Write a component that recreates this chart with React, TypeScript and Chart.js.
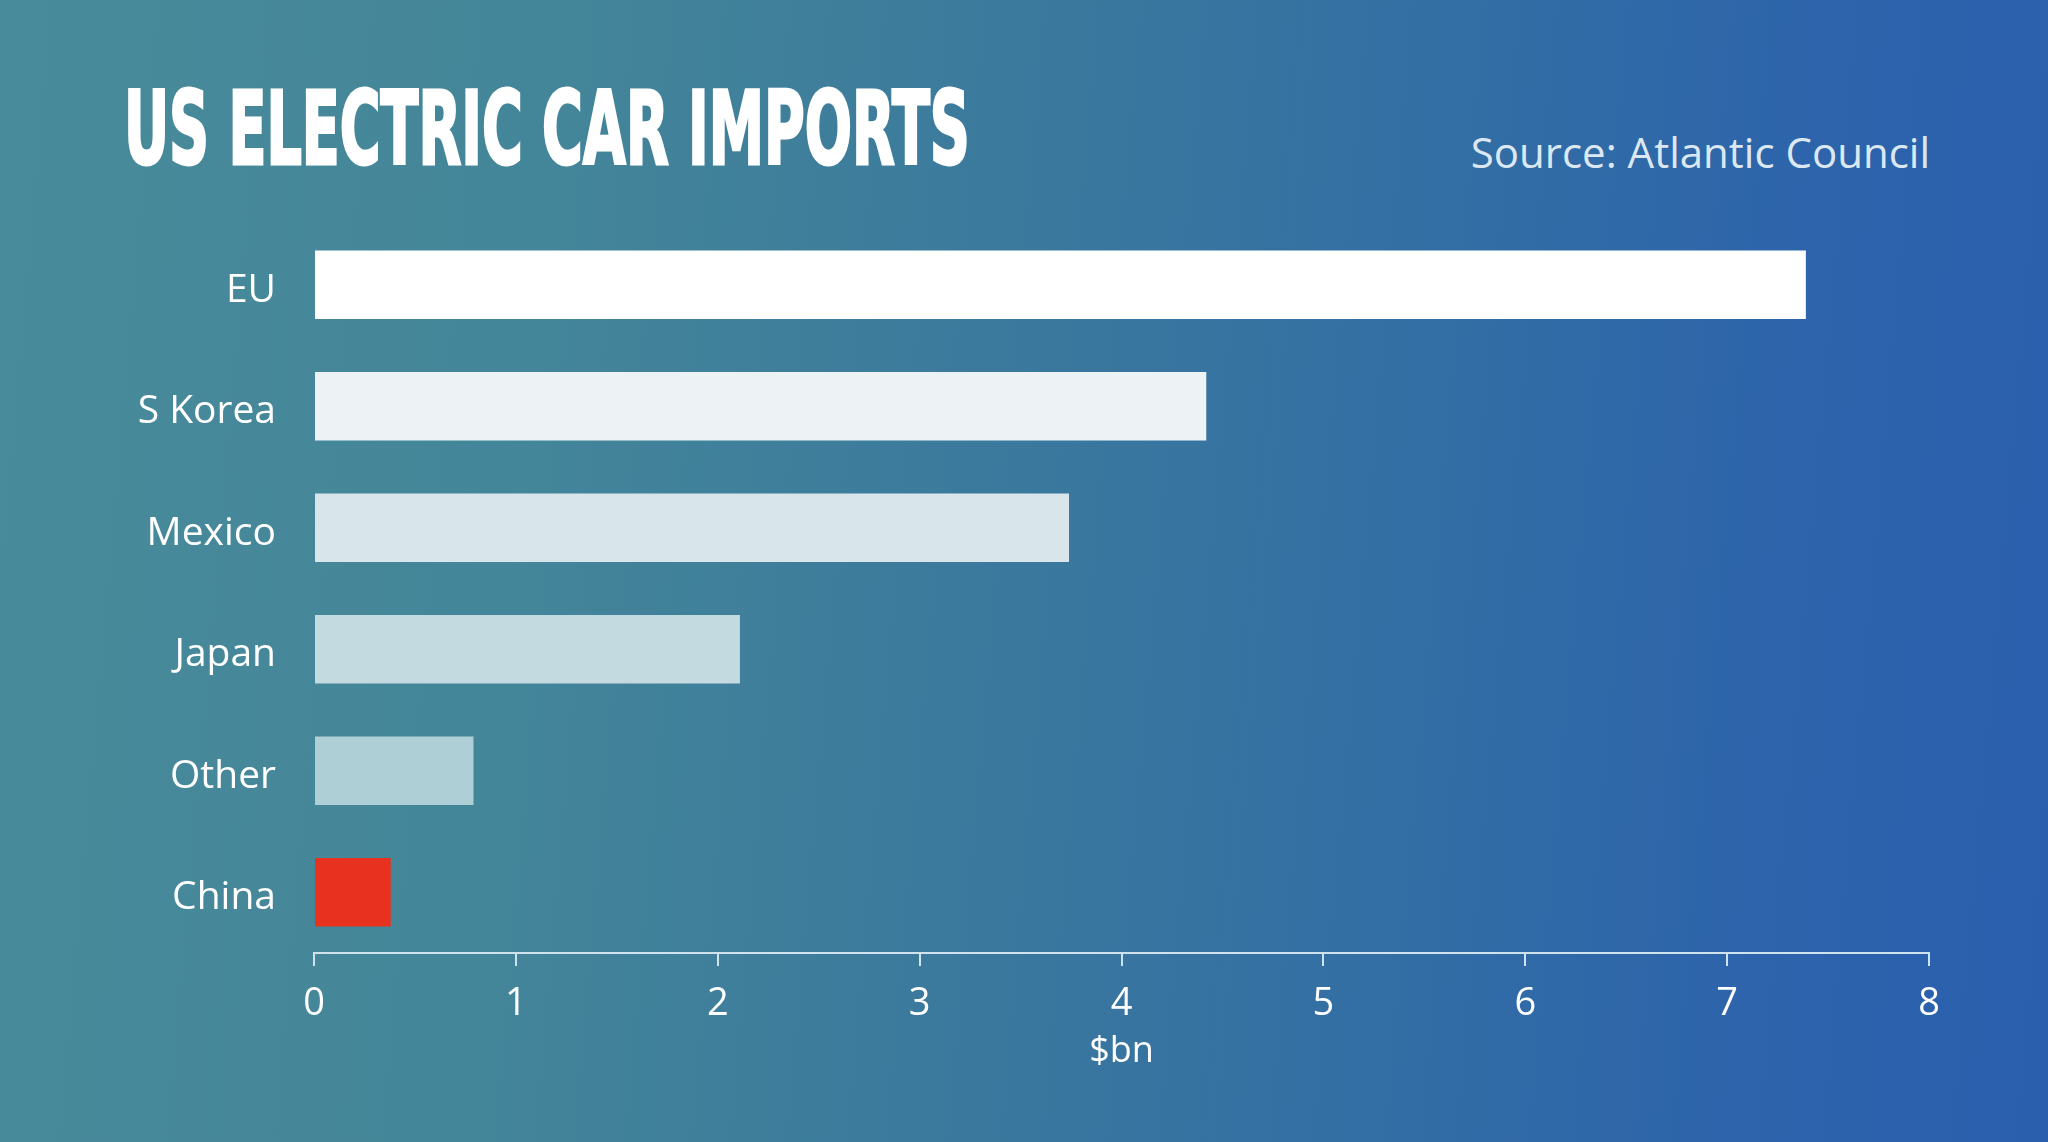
import { useEffect, useLayoutEffect, useRef } from "react";
import { Chart, registerables } from "chart.js";

Chart.register(...registerables);

// data ($bn)
const categories = ["EU", "S Korea", "Mexico", "Japan", "Other", "China"];
const importsBn = [7.39, 4.42, 3.74, 2.11, 0.79, 0.38];
const barColours = ["#ffffff", "#edf3f5", "#d8e5eb", "#c3dae1", "#aecfd6", "#e8321f"];
const xMin = 0;
const xMax = 8;
const xStep = 1;

const TEXT_FONT = "'Open Sans', 'Noto Sans', sans-serif";
const AXIS_COLOUR = "#cfe3ee";

export default function App() {
  const canvasRef = useRef<HTMLCanvasElement>(null);
  const chartRef = useRef<Chart<"bar"> | null>(null);
  const titleRef = useRef<HTMLDivElement>(null);

  // squeeze the headline into the width it has in the graphic
  useLayoutEffect(() => {
    const fit = () => {
      const el = titleRef.current;
      if (!el) return;
      el.style.transform = "none";
      const w = el.offsetWidth;
      if (w > 0) el.style.transform = `scaleX(${846 / w})`;
    };
    fit();
    document.fonts?.ready.then(fit);
  }, []);

  useEffect(() => {
    if (!canvasRef.current) return;
    const ctx = canvasRef.current.getContext("2d");
    if (!ctx) return;

    chartRef.current = new Chart(ctx, {
      type: "bar",
      data: {
        labels: categories,
        datasets: [
          {
            label: "US electric car imports ($bn)",
            data: importsBn,
            backgroundColor: barColours,
            borderWidth: 0,
            barPercentage: 0.565,
            categoryPercentage: 1,
          },
        ],
      },
      options: {
        indexAxis: "y",
        animation: false,
        responsive: true,
        maintainAspectRatio: false,
        layout: { padding: { top: 224, right: 119, bottom: 69, left: 0 } },
        plugins: {
          legend: { display: false },
          title: { display: false },
          tooltip: { enabled: false },
        },
        scales: {
          x: {
            min: xMin,
            max: xMax,
            ticks: {
              stepSize: xStep,
              color: "#ffffff",
              font: { family: TEXT_FONT, size: 38 },
              padding: 15,
              maxRotation: 0,
            },
            grid: {
              display: true,
              drawOnChartArea: false,
              drawTicks: true,
              tickLength: 13,
              color: AXIS_COLOUR,
              lineWidth: 2,
            },
            border: { display: true, color: AXIS_COLOUR, width: 2 },
            title: {
              display: true,
              text: "$bn",
              color: "#ffffff",
              font: { family: TEXT_FONT, size: 36 },
              padding: 0,
            },
            afterFit: (scale) => {
              scale.height = 120;
            },
          },
          y: {
            ticks: {
              color: "#ffffff",
              font: { family: TEXT_FONT, size: 39 },
              padding: 38,
              labelOffset: 6,
            },
            grid: { display: false, drawTicks: false },
            border: { display: false },
            afterFit: (scale) => {
              scale.width = 314;
            },
          },
        },
      },
    });

    return () => {
      chartRef.current?.destroy();
      chartRef.current = null;
    };
  }, []);

  return (
    <div
      style={{
        position: "fixed",
        inset: 0,
        overflow: "hidden",
        background:
          "linear-gradient(95deg, #488b9a 0%, #448699 25%, #3c7b9c 45%, #3470a3 65%, #2d64ab 85%, #2a5fae 100%)",
      }}
    >
      <div
        ref={titleRef}
        style={{
          position: "absolute",
          left: 124,
          top: 78,
          fontFamily: "'DejaVu Sans Condensed', 'DejaVu Sans', sans-serif",
          fontWeight: 700,
          fontSize: 102,
          lineHeight: 1,
          color: "#ffffff",
          whiteSpace: "nowrap",
          transformOrigin: "0 0",
          WebkitTextStroke: "3px #ffffff",
        }}
      >
        US ELECTRIC CAR IMPORTS
      </div>
      <div
        style={{
          position: "absolute",
          right: 118,
          top: 131,
          fontFamily: TEXT_FONT,
          fontSize: 42,
          lineHeight: 1,
          color: "#dce8f1",
          whiteSpace: "nowrap",
        }}
      >
        Source: Atlantic Council
      </div>
      <div style={{ position: "absolute", inset: 0 }}>
        <canvas ref={canvasRef} />
      </div>
    </div>
  );
}
